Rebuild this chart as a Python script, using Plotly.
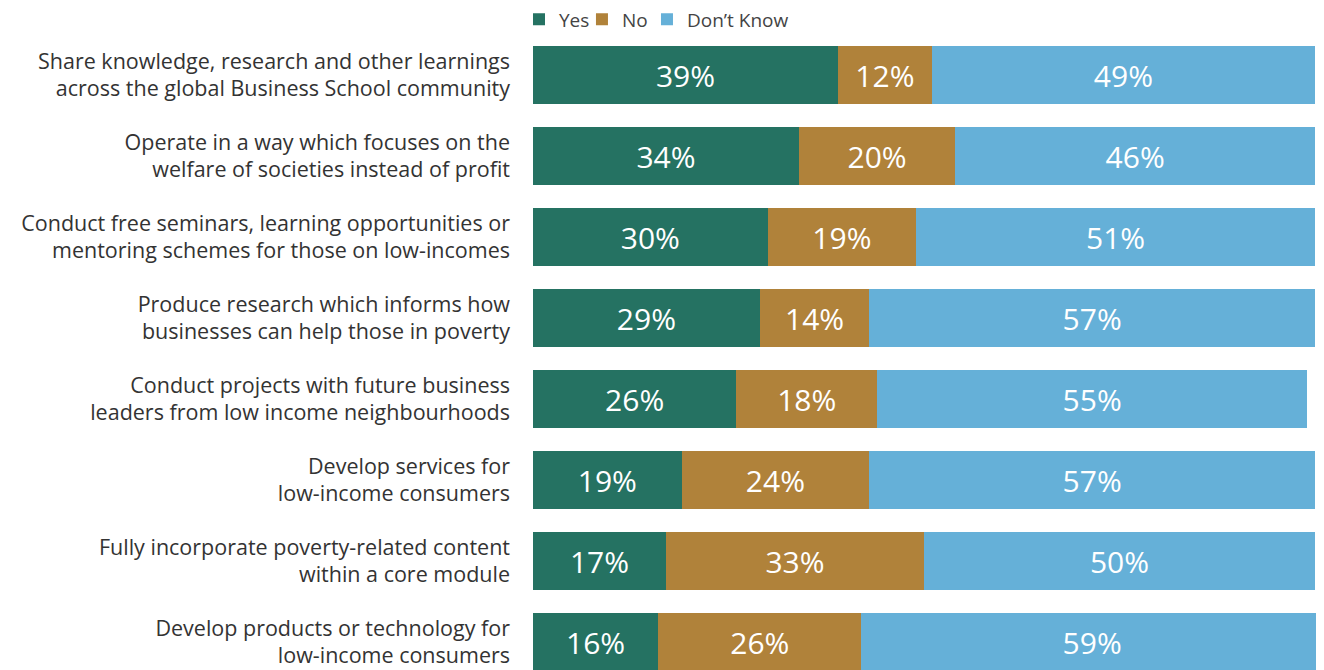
import plotly.graph_objects as go

categories = [
    "Share knowledge, research and other learnings<br>across the global Business School community",
    "Operate in a way which focuses on the<br>welfare of societies instead of profit",
    "Conduct free seminars, learning opportunities or<br>mentoring schemes for those on low-incomes",
    "Produce research which informs how<br>businesses can help those in poverty",
    "Conduct projects with future business<br>leaders from low income neighbourhoods",
    "Develop services for<br>low-income consumers",
    "Fully incorporate poverty-related content<br>within a core module",
    "Develop products or technology for<br>low-income consumers",
]
yes = [39, 34, 30, 29, 26, 19, 17, 16]
no = [12, 20, 19, 14, 18, 24, 33, 26]
dont_know = [49, 46, 51, 57, 55, 57, 50, 59]

series_names = ["Yes", "No", "Don\u2019t Know"]
series_values = [yes, no, dont_know]
series_colors = ["#257262", "#B0823A", "#65B0D8"]
legend_ids = ["legend", "legend2", "legend3"]
legend_x = [-0.0177, 0.0619, 0.1441]

FONT = "'Open Sans', Lato, sans-serif"

fig = go.Figure()
for name, vals, color, lid in zip(series_names, series_values, series_colors, legend_ids):
    fig.add_trace(go.Bar(
        y=categories, x=vals, name=name, orientation="h",
        marker=dict(color=color, line=dict(width=0)),
        text=[f"{v}%" for v in vals], textposition="inside", insidetextanchor="middle",
        textfont=dict(color="white", size=30, family=FONT),
        textangle=0, legend=lid,
    ))

legend_common = dict(
    orientation="h", xanchor="left",
    yref="container", y=0.9826, yanchor="middle",
    font=dict(size=19, color="#444444", family=FONT),
    itemwidth=30, bgcolor="rgba(0,0,0,0)",
)

# page body has an 8px default margin, so the figure is sized to fit the window
fig.update_layout(
    barmode="stack",
    bargap=0.284,
    width=1316, height=662,
    margin=dict(l=525, r=0, t=36, b=0, autoexpand=False),
    paper_bgcolor="white", plot_bgcolor="white",
    font=dict(family=FONT, color="#333333", size=21),
    uniformtext=dict(minsize=30, mode="show"),
    legend=dict(x=legend_x[0], **legend_common),
    legend2=dict(x=legend_x[1], **legend_common),
    legend3=dict(x=legend_x[2], **legend_common),
    showlegend=True,
)
fig.update_xaxes(range=[0, 101.15], visible=False, fixedrange=True)
fig.update_yaxes(
    range=[7.3457, -0.3827], showgrid=False, zeroline=False, showline=False,
    ticks="", ticklabelstandoff=22,
    tickfont=dict(size=21.5, color="#333333", family=FONT),
    categoryorder="array", categoryarray=categories,
)

fig.write_html("out.html")
